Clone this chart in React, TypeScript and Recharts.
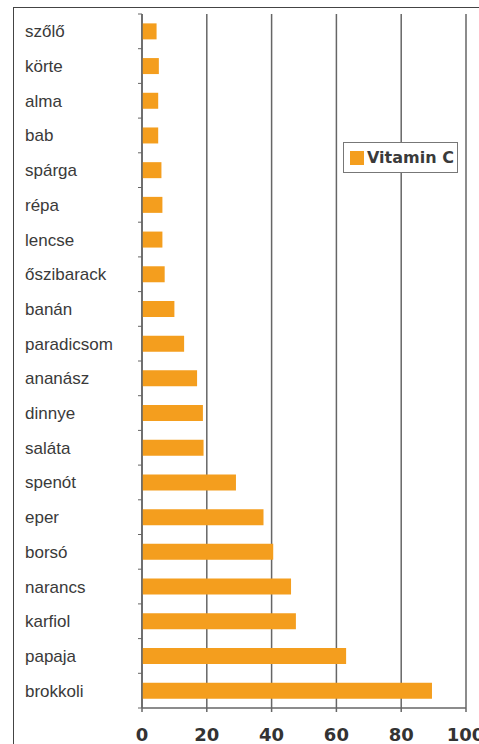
import { BarChart, Bar, XAxis, YAxis, CartesianGrid, Legend } from 'recharts';

const categories = [
  'szőlő', 'körte', 'alma', 'bab', 'spárga', 'répa', 'lencse', 'őszibarack', 'banán', 'paradicsom',
  'ananász', 'dinnye', 'saláta', 'spenót', 'eper', 'borsó', 'narancs', 'karfiol', 'papaja', 'brokkoli',
];
const vitaminC = [4.5, 5.2, 5, 5, 6, 6.3, 6.3, 7, 10, 13, 17, 18.8, 19, 29, 37.5, 40.5, 46, 47.5, 63, 89.5];
const xTicks = [0, 20, 40, 60, 80, 100];

const data = categories.map((name, i) => ({ name, value: vitaminC[i] }));

const ORANGE = '#F49E1E';
const GRID = '#666';
const CHART_H = 744;
const MARGIN = { top: 14, right: 13, bottom: 6, left: 0 };
const X_AXIS_H = 30;
const Y_AXIS_W = 142;
const PLOT_LEFT = MARGIN.left + Y_AXIS_W;
// height of one category band, used to put the small y ticks on the band edges
const BAND = (CHART_H - MARGIN.top - MARGIN.bottom - X_AXIS_H) / categories.length;

const CategoryTick = ({ y, payload, index }: any) => (
  <g>
    <line x1={PLOT_LEFT - 4} x2={PLOT_LEFT} y1={y - BAND / 2} y2={y - BAND / 2} stroke={GRID} strokeWidth={1} />
    {index === categories.length - 1 && (
      <line x1={PLOT_LEFT - 4} x2={PLOT_LEFT} y1={y + BAND / 2} y2={y + BAND / 2} stroke={GRID} strokeWidth={1} />
    )}
    <text x={25} y={y} dy={6} textAnchor="start" fontFamily="'Liberation Sans', Arial, sans-serif" fontSize={17} fill="#3a3a3a">
      {payload.value}
    </text>
  </g>
);

const LegendBox = () => (
  <div
    style={{
      width: 115,
      height: 31,
      border: '1.5px solid #777',
      background: '#fff',
      display: 'flex',
      alignItems: 'center',
      boxSizing: 'border-box',
      paddingLeft: 6,
      fontFamily: "'DejaVu Sans', sans-serif",
      fontWeight: 'bold',
      fontSize: 16,
      color: '#3a3a3a',
    }}
  >
    <span style={{ width: 14, height: 14, background: ORANGE, marginRight: 3, display: 'inline-block' }} />
    Vitamin C
  </div>
);

export default function App() {
  return (
    <div style={{ position: 'absolute', left: 0, top: 0, width: 479, height: 744, overflow: 'hidden', background: '#fff' }}>
      <div
        style={{
          position: 'absolute',
          left: 13,
          top: 7,
          width: 500,
          height: 800,
          border: '1.5px solid #444',
          boxSizing: 'border-box',
        }}
      />
      <BarChart
        layout="vertical"
        width={479}
        height={CHART_H}
        data={data}
        margin={MARGIN}
        barCategoryGap="27%"
      >
        <CartesianGrid horizontal={false} stroke={GRID} strokeWidth={1.5} />
        <XAxis
          type="number"
          domain={[0, 100]}
          ticks={xTicks}
          height={X_AXIS_H}
          tickSize={4}
          tickMargin={16}
          axisLine={{ stroke: GRID, strokeWidth: 1.5 }}
          tickLine={{ stroke: GRID, strokeWidth: 1.5 }}
          tick={{ fontFamily: "'DejaVu Sans', sans-serif", fontWeight: 'bold', fontSize: 18, fill: '#333' }}
        />
        <YAxis
          type="category"
          dataKey="name"
          width={Y_AXIS_W}
          axisLine={{ stroke: GRID, strokeWidth: 1.5 }}
          tickLine={false}
          interval={0}
          tick={<CategoryTick />}
        />
        <Legend
          layout="horizontal"
          verticalAlign="middle"
          align="center"
          content={<LegendBox />}
          wrapperStyle={{ position: 'absolute', left: 343, top: 142, width: 'auto' }}
        />
        <Bar dataKey="value" name="Vitamin C" fill={ORANGE} isAnimationActive={false} />
      </BarChart>
    </div>
  );
}
